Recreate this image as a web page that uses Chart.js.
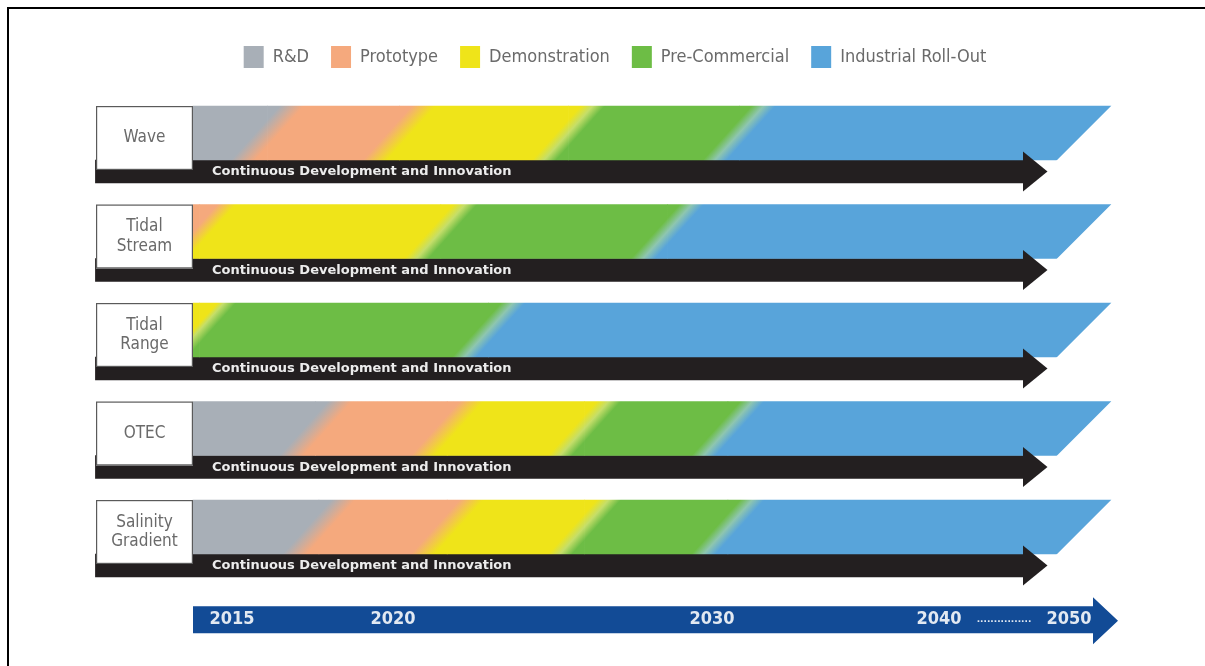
<!DOCTYPE html>
<html>
<head>
<meta charset="utf-8">
<script src="https://cdn.jsdelivr.net/npm/chart.js@4.4.1/dist/chart.umd.min.js"></script>
<style>
  html, body { margin: 0; padding: 0; background: #fff; }
  #wrap { position: relative; width: 1205px; height: 666px; overflow: hidden; background: #fff; }
  #holder { position: absolute; left: 0; top: 0; width: 1205px; height: 666px; }
  #frame { position: absolute; left: 7px; top: 7px; right: -4px; bottom: -4px;
           border-top: 2px solid #000; border-left: 2px solid #000; pointer-events: none; }
</style>
</head>
<body>
<div id="wrap">
  <div id="holder"><canvas id="chart"></canvas></div>
  <div id="frame"></div>
</div>
<script>
// ---------------- data ----------------
const ROWS = [['Wave'], ['Tidal', 'Stream'], ['Tidal', 'Range'], ['OTEC'], ['Salinity', 'Gradient']];
const STAGE_NAMES = ['R&D', 'Prototype', 'Demonstration', 'Pre-Commercial', 'Industrial Roll-Out'];
// [start year, end year] of each stage for every row (null = stage not shown)
const RD            = [[2013.8, 2016.1], null,             null,             [2013.8, 2017.6], [2013.8, 2017.7]];
const PROTOTYPE     = [[2016.1, 2020.2], [2013.8, 2014.0], null,             [2017.6, 2021.7], [2017.7, 2021.7]];
const DEMONSTRATION = [[2020.2, 2025.5], [2014.0, 2021.5], [2013.8, 2014.0], [2021.7, 2026.0], [2021.7, 2026.0]];
const PRE_COMMERCIAL= [[2025.5, 2031.2], [2021.5, 2028.6], [2014.0, 2023.0], [2026.0, 2030.7], [2026.0, 2030.7]];
const ROLL_OUT      = [[2031.2, 2053.3], [2028.6, 2053.3], [2023.0, 2053.3], [2030.7, 2053.3], [2030.7, 2053.3]];
const CONTINUOUS_LABEL = 'Continuous Development and Innovation';
const CONTINUOUS    = [[2010.8, 2046.5], [2010.8, 2046.5], [2010.8, 2046.5], [2010.8, 2046.5], [2010.8, 2046.5]];
const TICK_YEARS  = [2015, 2020, 2030, 2040, 2045, 2050];
const TICK_LABELS = ['2015', '2020', '2030', '2040', '................', '2050'];

const STAGE_DATA = [RD, PROTOTYPE, DEMONSTRATION, PRE_COMMERCIAL, ROLL_OUT];

// ---------------- styles / layout ----------------
const STAGE_COLORS = ['#a8afb7', '#f5a97d', '#efe419', '#6dbd45', '#58a4da'];
const ARROW_COLOR = '#231f20';
const TIMELINE_COLOR = '#124b96';
const COND = '"DejaVu Sans Condensed", "Liberation Sans Narrow", "DejaVu Sans", sans-serif';
const BAND = 54, ARROW = 23, BLUR = 12, SLANT_GRAD = 0.9, SLANT_EDGE = 1, LABEL_BOX = 97;
// schematic (non-linear) timeline: year -> fraction of the axis length
const AXIS_YEARS = [2013.8, 2015, 2020, 2030, 2040, 2050, 2054];
const AXIS_FRACS = [0, 0.0421, 0.2157, 0.5599, 0.8047, 0.9450, 1];

class TimelineScale extends Chart.LinearScale {
  _frac(v) {
    let k = 0;
    while (k < AXIS_YEARS.length - 2 && v > AXIS_YEARS[k + 1]) k++;
    const v0 = AXIS_YEARS[k], v1 = AXIS_YEARS[k + 1], f0 = AXIS_FRACS[k], f1 = AXIS_FRACS[k + 1];
    return f0 + (v - v0) * (f1 - f0) / (v1 - v0);
  }
  getPixelForValue(v) { return this.getPixelForDecimal(this._frac(v)); }
  getValueForPixel(p) {
    const f = this.getDecimalForPixel(p);
    let k = 0;
    while (k < AXIS_FRACS.length - 2 && f > AXIS_FRACS[k + 1]) k++;
    const v0 = AXIS_YEARS[k], v1 = AXIS_YEARS[k + 1], f0 = AXIS_FRACS[k], f1 = AXIS_FRACS[k + 1];
    return v0 + (f - f0) * (v1 - v0) / (f1 - f0);
  }
}
TimelineScale.id = 'timeline';
TimelineScale.defaults = {};
Chart.register(TimelineScale);

function hexToRgb(h) { const n = parseInt(h.slice(1), 16); return [(n >> 16) & 255, (n >> 8) & 255, n & 255]; }
function highlight(a, b) {
  const A = hexToRgb(a), B = hexToRgb(b);
  const m = A.map((v, i) => (v + B[i]) / 2 * 0.72 + 255 * 0.28);
  return `rgb(${m.map(Math.round).join(',')})`;
}

function rowGradient(chart, i) {
  const xs = chart.scales.x, ys = chart.scales.y;
  if (!xs || !ys || !chart.chartArea) return null;
  const present = [];
  STAGE_DATA.forEach((arr, k) => { if (arr[i]) present.push({ k, s: arr[i] }); });
  if (!present.length) return null;
  const L = xs.getPixelForValue(present[0].s[0]);
  const R = xs.getPixelForValue(present[present.length - 1].s[1]);
  const D = R - L;
  const yc = ys.getPixelForValue(i) - BAND / 2;
  const f = D / (1 + SLANT_GRAD * SLANT_GRAD);
  const g = chart.ctx.createLinearGradient(L, yc, L + f, yc + SLANT_GRAD * f);
  const t = px => Math.min(1, Math.max(0, (px - L) / D));
  g.addColorStop(0, STAGE_COLORS[present[0].k]);
  for (let j = 0; j < present.length - 1; j++) {
    const b = xs.getPixelForValue(present[j].s[1]);
    const c0 = STAGE_COLORS[present[j].k], c1 = STAGE_COLORS[present[j + 1].k];
    g.addColorStop(t(b - BLUR), c0);
    if (present[j].k >= 2) g.addColorStop(t(b), highlight(c0, c1));
    g.addColorStop(t(b + BLUR), c1);
  }
  g.addColorStop(1, STAGE_COLORS[present[present.length - 1].k]);
  return g;
}

const deco = {
  id: 'deco',
  beforeDraw(chart) {
    const { ctx } = chart;
    const x = chart.scales.x;
    const L = x.left, R = x.right, T = x.top;
    ctx.save();
    ctx.fillStyle = TIMELINE_COLOR;
    ctx.beginPath();
    ctx.moveTo(L, T + 3);
    ctx.lineTo(R - 27, T + 3);
    ctx.lineTo(R - 27, T - 6);
    ctx.lineTo(R - 2, T + 17.5);
    ctx.lineTo(R - 27, T + 41);
    ctx.lineTo(R - 27, T + 30);
    ctx.lineTo(L, T + 30);
    ctx.closePath();
    ctx.fill();
    ctx.restore();
  },
  beforeDatasetDraw(chart, args) {
    if (args.index >= STAGE_DATA.length) return;
    const ctx = chart.ctx;
    ctx.save();
    ctx.beginPath();
    ROWS.forEach((_, i) => {
      let L = Infinity, R = -Infinity, top = 0, bottom = 0;
      STAGE_DATA.forEach((arr, d) => {
        if (!arr[i]) return;
        const p = chart.getDatasetMeta(d).data[i].getProps(['x', 'y', 'base', 'height'], true);
        L = Math.min(L, p.base, p.x); R = Math.max(R, p.x, p.base);
        top = p.y - p.height / 2; bottom = p.y + p.height / 2;
      });
      if (!isFinite(L)) return;
      const H = bottom - top;
      ctx.moveTo(L - 2, top - 2);
      ctx.lineTo(R + 2 * SLANT_EDGE, top - 2);
      ctx.lineTo(R - (H + 2) * SLANT_EDGE, bottom + 2);
      ctx.lineTo(L - 2, bottom + 2);
      ctx.closePath();
    });
    ctx.clip();
  },
  afterDatasetDraw(chart, args) {
    if (args.index < STAGE_DATA.length) chart.ctx.restore();
  },
  afterDatasetsDraw(chart) {
    const ctx = chart.ctx, ys = chart.scales.y;
    const di = STAGE_DATA.length;
    const meta = chart.getDatasetMeta(di);
    const boxL = chart.chartArea.left - LABEL_BOX;
    ctx.save();
    meta.data.forEach((el, i) => {
      const p = el.getProps(['x', 'y', 'base', 'height'], true);
      ctx.fillStyle = ARROW_COLOR;
      ctx.beginPath();
      ctx.moveTo(p.x - 0.5, p.y - 20);
      ctx.lineTo(p.x + 24, p.y);
      ctx.lineTo(p.x - 0.5, p.y + 20);
      ctx.closePath();
      ctx.fill();
      const c = ys.getPixelForValue(i);
      ctx.fillStyle = '#fff';
      ctx.fillRect(boxL, c - BAND, LABEL_BOX, BAND + 10);
      ctx.strokeStyle = '#5a5a5a';
      ctx.lineWidth = 1.2;
      ctx.strokeRect(boxL + 0.6, c - BAND + 0.6, LABEL_BOX - 1.2, BAND + 10 - 1.2);
      ctx.fillStyle = '#ececec';
      ctx.font = 'bold 13px "DejaVu Sans", sans-serif';
      ctx.textAlign = 'left';
      ctx.textBaseline = 'middle';
      ctx.fillText(chart.data.datasets[di].label, chart.chartArea.left + 19, p.y + 0.5);
    });
    ctx.restore();
  }
};

// centre the row labels inside their boxes
const mctx = document.createElement('canvas').getContext('2d');
mctx.font = `17px ${COND}`;
const widest = Math.max(...ROWS.flat().map(s => mctx.measureText(s).width));
const Y_PAD = Math.max(0, LABEL_BOX / 2 - widest / 2);

const datasets = STAGE_DATA.map((arr, k) => ({
  label: STAGE_NAMES[k],
  data: arr,
  stack: 'band',
  barThickness: BAND,
  borderWidth: 0,
  clip: false,
  xAxisID: 'x',
  backgroundColor: ctx => (ctx.type === 'data' ? (rowGradient(ctx.chart, ctx.dataIndex) || STAGE_COLORS[k]) : STAGE_COLORS[k])
}));
datasets.push({
  label: CONTINUOUS_LABEL,
  data: CONTINUOUS,
  stack: 'arrow',
  barThickness: ARROW,
  borderWidth: 0,
  clip: false,
  xAxisID: 'x',
  backgroundColor: ARROW_COLOR
});

new Chart(document.getElementById('chart'), {
  type: 'bar',
  data: { labels: ROWS, datasets },
  plugins: [deco],
  options: {
    indexAxis: 'y',
    responsive: true,
    maintainAspectRatio: false,
    animation: false,
    events: [],
    layout: { padding: { left: 110, right: 85, top: 24, bottom: 0 } },
    plugins: {
      tooltip: { enabled: false },
      legend: {
        position: 'top',
        labels: {
          boxWidth: 20, boxHeight: 22, padding: 22, color: '#6a6a6a',
          font: { family: COND, size: 18 },
          generateLabels: chart => Chart.defaults.plugins.legend.labels.generateLabels(chart)
            .filter(item => item.datasetIndex < STAGE_DATA.length)
            .map(item => Object.assign(item, {
              fillStyle: STAGE_COLORS[item.datasetIndex],
              strokeStyle: STAGE_COLORS[item.datasetIndex],
              lineWidth: 0
            }))
        }
      }
    },
    scales: {
      y: {
        type: 'category', stacked: true, offset: true,
        grid: { display: false, drawTicks: false }, border: { display: false },
        ticks: { z: 1, crossAlign: 'center', padding: Y_PAD, labelOffset: -22, color: '#6a6a6a',
                 font: { family: COND, size: 17, lineHeight: 1.15 } },
        afterFit: s => { s.width = 83; }
      },
      x: {
        type: 'timeline', position: 'bottom', stacked: false, min: AXIS_YEARS[0], max: AXIS_YEARS[AXIS_YEARS.length - 1],
        grid: { display: false, drawTicks: false }, border: { display: false },
        afterBuildTicks: s => { s.ticks = TICK_YEARS.map(value => ({ value })); },
        ticks: {
          autoSkip: false, maxRotation: 0, minRotation: 0, padding: 5, color: '#e2e9f2',
          callback: (v, i) => TICK_LABELS[i],
          font: ctx => (TICK_LABELS[ctx.index] && TICK_LABELS[ctx.index][0] === '.')
            ? { family: '"DejaVu Sans", sans-serif', size: 9, weight: 'bold', lineHeight: 2.6 }
            : { family: COND, size: 18, weight: 'bold', lineHeight: 1.2 }
        },
        afterFit: s => { s.height = 62.75; }
      },
      x2: {
        type: 'linear', position: 'top', display: true,
        grid: { display: false, drawTicks: false }, border: { display: false },
        ticks: { display: false },
        afterFit: s => { s.height = 32.75; }
      }
    }
  }
});
</script>
</body>
</html>
